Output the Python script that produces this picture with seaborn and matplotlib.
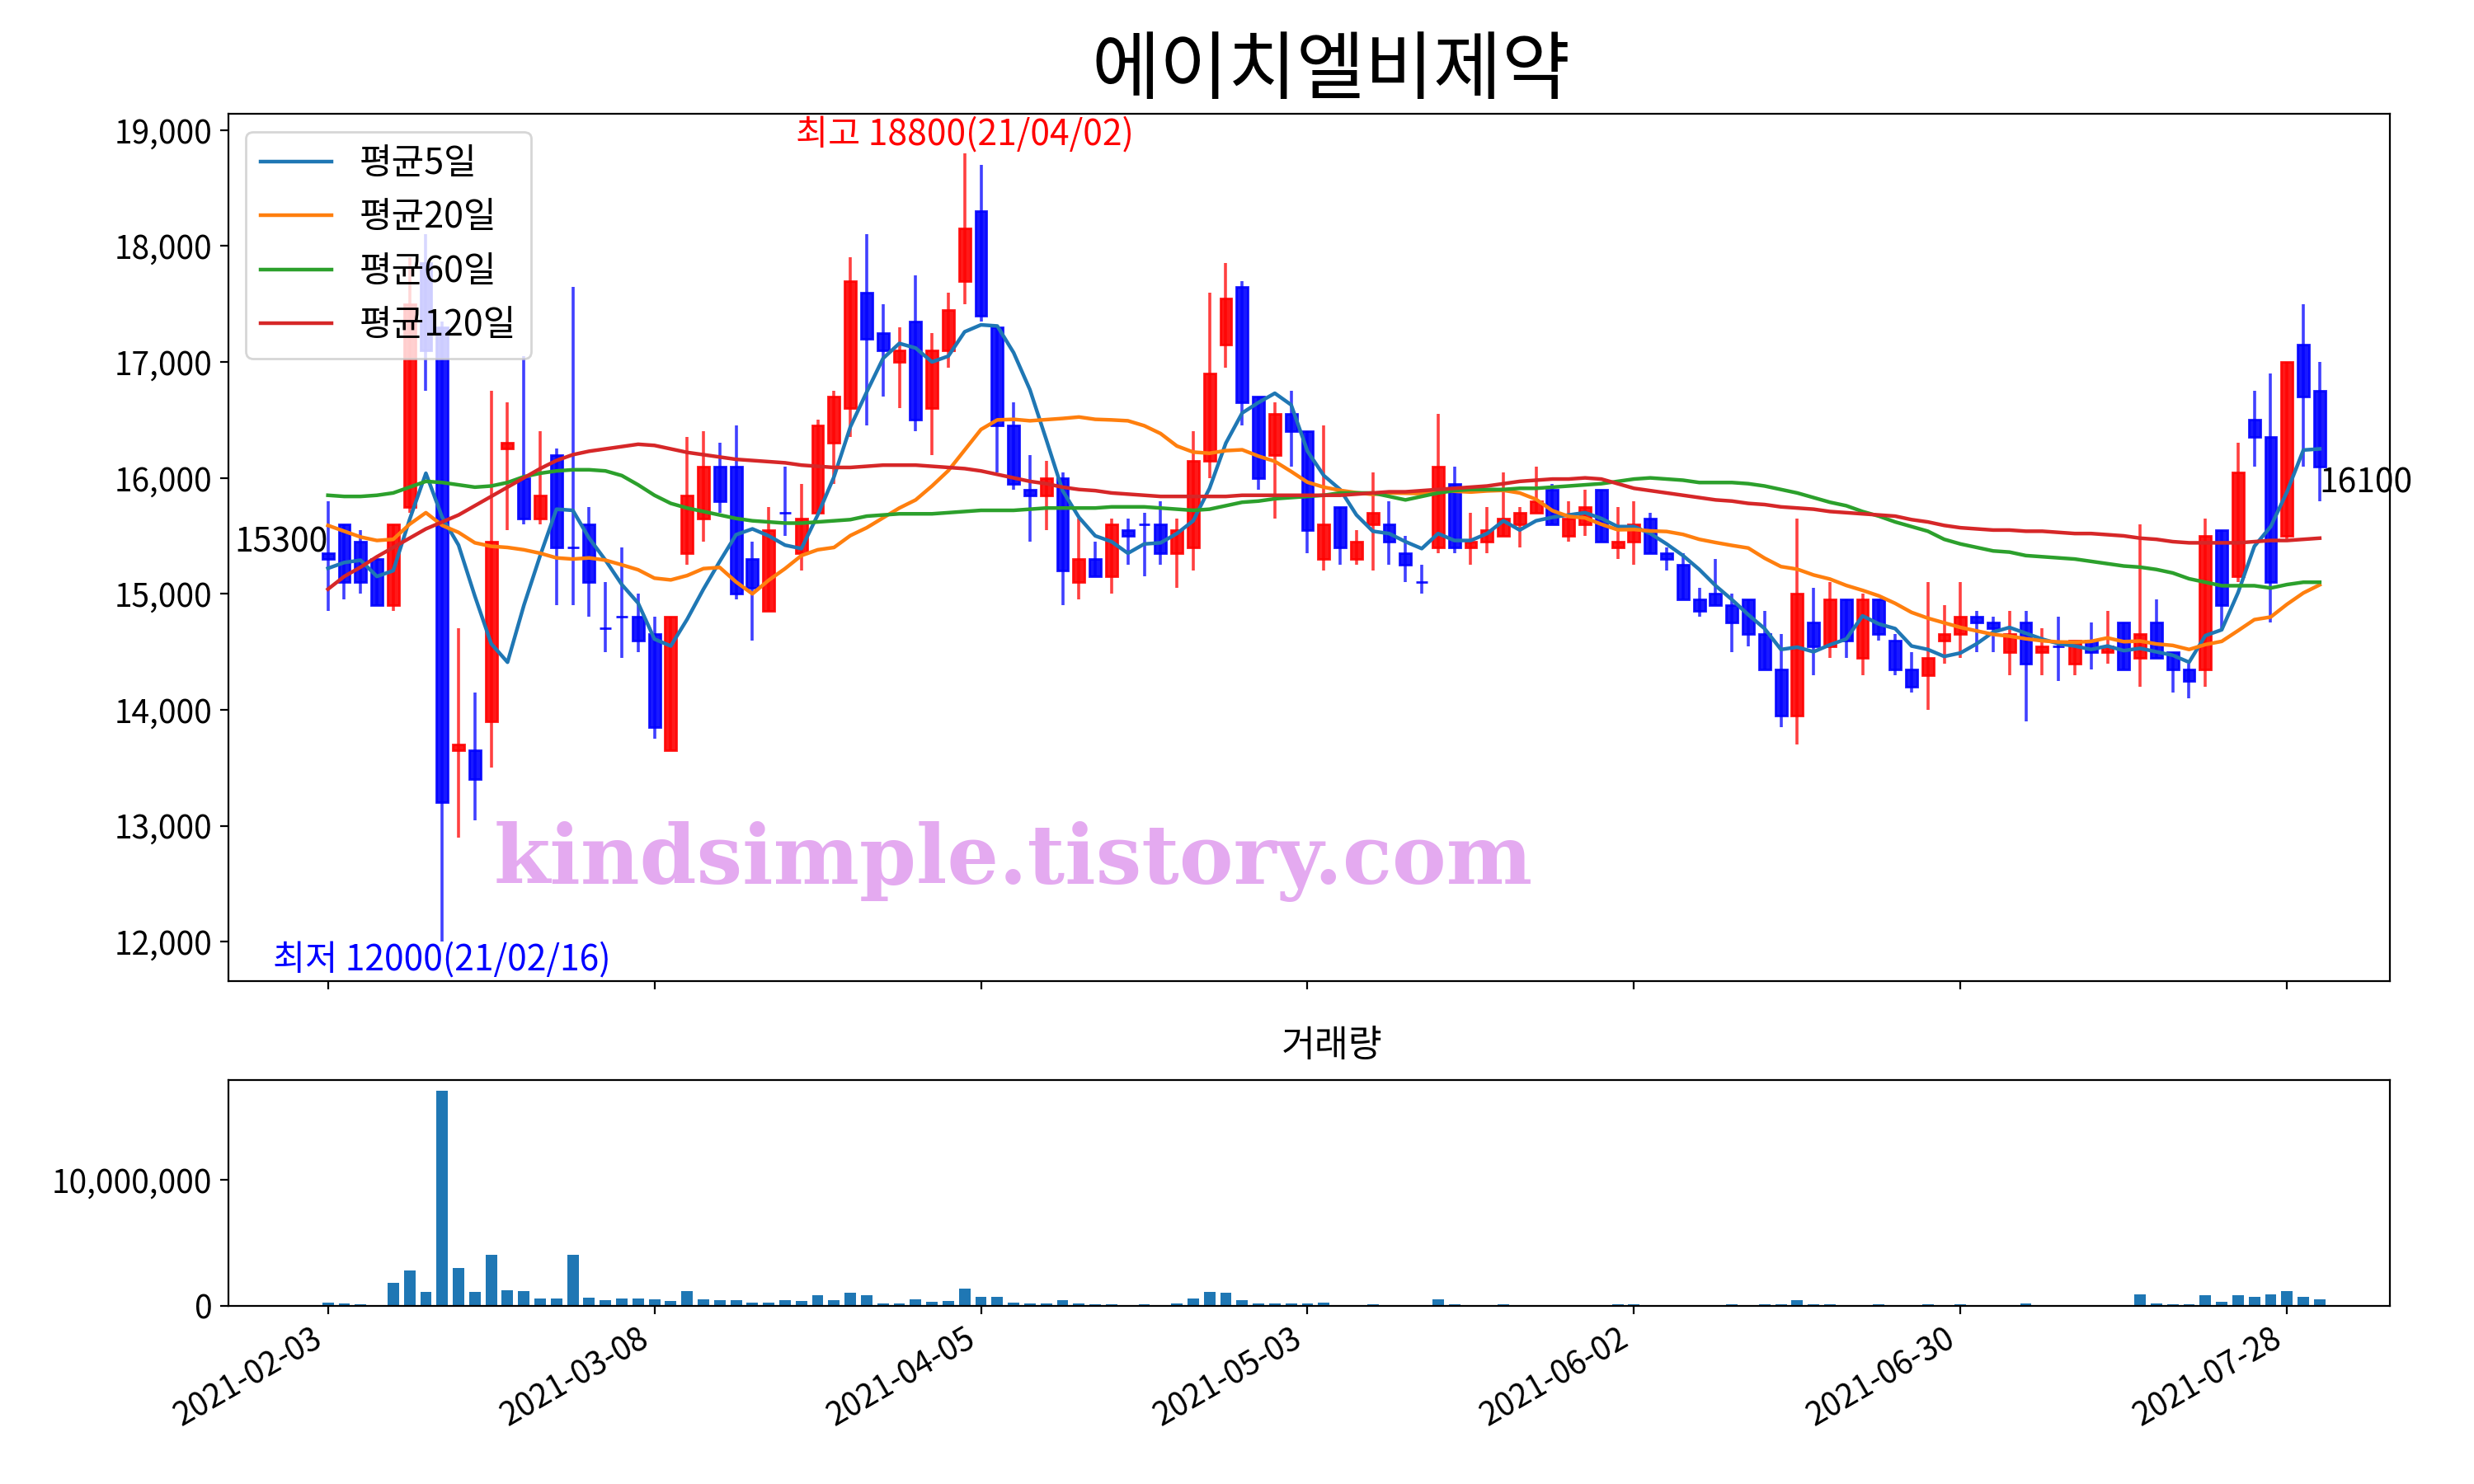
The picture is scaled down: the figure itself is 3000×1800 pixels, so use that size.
import numpy as np
import pandas as pd
import matplotlib
matplotlib.use('Agg')  # no display
import matplotlib.pyplot as plt
import matplotlib.ticker as mticker
import seaborn as sns

title = '에이치엘비제약'
# KRX trading days, 2021-02-03 .. 2021-07-30
holidays = ['2021-02-11', '2021-02-12', '2021-03-01', '2021-05-05', '2021-05-19']
dates = pd.bdate_range('2021-02-03', '2021-07-30', freq='C', holidays=holidays)

open_ = [15350, 15600, 15450, 15300, 14900, 15750, 17850, 17300, 13650, 13650,
         13900, 16250, 16000, 15650, 16200, 15400, 15600, 14700, 14800, 14800,
         14650, 13650, 15350, 15650, 16100, 16100, 15300, 14850, 15700, 15350,
         15700, 16300, 16600, 17600, 17250, 17000, 17350, 16600, 17100, 17700,
         18300, 17300, 16450, 15900, 15850, 16000, 15100, 15300, 15150, 15550,
         15600, 15600, 15350, 15400, 16150, 17150, 17650, 16700, 16200, 16550,
         16400, 15300, 15750, 15300, 15600, 15600, 15350, 15100, 15400, 15950,
         15400, 15450, 15500, 15600, 15700, 15900, 15500, 15600, 15900, 15400,
         15450, 15650, 15350, 15250, 14950, 15000, 14900, 14950, 14650, 14350,
         13950, 14750, 14550, 14950, 14450, 14950, 14600, 14350, 14300, 14600,
         14650, 14800, 14750, 14500, 14750, 14500, 14550, 14400, 14600, 14500,
         14750, 14450, 14750, 14500, 14350, 14350, 15550, 15150, 16500, 16350,
         15500, 17150, 16750]
high = [15800, 15600, 15550, 15300, 15600, 17900, 18100, 17350, 14700, 14150,
        16750, 16650, 17050, 16400, 16250, 17650, 15750, 15100, 15400, 15000,
        14800, 14800, 16350, 16400, 16300, 16450, 15450, 15750, 16100, 15950,
        16500, 16750, 17900, 18100, 17500, 17300, 17750, 17250, 17600, 18800,
        18700, 17300, 16650, 16200, 16150, 16050, 15650, 15450, 15650, 15650,
        15700, 15800, 15650, 16400, 17600, 17850, 17700, 16700, 16650, 16750,
        16400, 16450, 15750, 15550, 16050, 15800, 15500, 15250, 16550, 16100,
        15700, 15750, 16050, 15750, 16100, 15950, 15800, 15900, 15900, 15750,
        15800, 15700, 15400, 15350, 15050, 15300, 15000, 14950, 14850, 14650,
        15650, 15050, 15100, 14950, 15000, 14950, 14650, 14500, 15100, 14900,
        15100, 14850, 14800, 14850, 14850, 14700, 14800, 14600, 14750, 14850,
        14750, 15600, 14950, 14500, 14400, 15650, 15550, 16300, 16750, 16900,
        17000, 17500, 17000]
low = [14850, 14950, 15000, 14900, 14850, 15700, 16750, 12000, 12900, 13050,
       13500, 15550, 15600, 15600, 14900, 14900, 14800, 14500, 14450, 14500,
       13750, 13650, 15250, 15450, 15700, 14950, 14600, 14850, 15500, 15200,
       15700, 15950, 16350, 16450, 16700, 16600, 16400, 16200, 16950, 17500,
       17350, 16050, 15900, 15450, 15550, 14900, 14950, 15150, 15000, 15250,
       15150, 15250, 15050, 15200, 16000, 16950, 16450, 15900, 15650, 16100,
       15350, 15200, 15250, 15250, 15200, 15250, 15100, 15000, 15350, 15350,
       15250, 15350, 15500, 15400, 15700, 15600, 15450, 15500, 15450, 15300,
       15250, 15350, 15200, 14950, 14800, 14900, 14500, 14550, 14350, 13850,
       13700, 14300, 14450, 14450, 14300, 14600, 14300, 14150, 14000, 14400,
       14450, 14500, 14500, 14300, 13900, 14300, 14250, 14300, 14350, 14400,
       14350, 14200, 14450, 14150, 14100, 14200, 14700, 15100, 16100, 14750,
       15450, 16100, 15800]
close = [15300, 15100, 15100, 14900, 15600, 17500, 17100, 13200, 13700, 13400,
         15450, 16300, 15650, 15850, 15400, 15400, 15100, 14700, 14800, 14600,
         13850, 14800, 15850, 16100, 15800, 15000, 15050, 15550, 15700, 15650,
         16450, 16700, 17700, 17200, 17100, 17100, 16500, 17100, 17450, 18150,
         17400, 16450, 15950, 15850, 16000, 15200, 15300, 15150, 15600, 15500,
         15600, 15350, 15550, 16150, 16900, 17550, 16650, 16000, 16550, 16400,
         15550, 15600, 15400, 15450, 15700, 15450, 15250, 15100, 16100, 15400,
         15450, 15550, 15650, 15700, 15800, 15600, 15650, 15750, 15450, 15450,
         15600, 15350, 15300, 14950, 14850, 14900, 14750, 14650, 14350, 13950,
         15000, 14550, 14950, 14600, 14950, 14650, 14350, 14200, 14450, 14650,
         14800, 14750, 14700, 14650, 14400, 14550, 14550, 14600, 14500, 14550,
         14350, 14650, 14450, 14350, 14250, 15500, 14900, 16050, 16350, 15100,
         17000, 16700, 16100]
volume = [262000, 175000, 109000, 44000, 1810000, 2790000, 1090000, 17070000, 2990000, 1090000,
          4040000, 1220000, 1160000, 568000, 568000, 4040000, 633000, 437000, 568000, 568000,
          502000, 371000, 1160000, 502000, 437000, 437000, 240000, 240000, 437000, 371000,
          830000, 437000, 1030000, 830000, 175000, 175000, 502000, 306000, 371000, 1350000,
          699000, 699000, 240000, 175000, 175000, 437000, 175000, 109000, 109000, 44000,
          109000, 44000, 175000, 568000, 1090000, 1030000, 437000, 175000, 175000, 175000,
          175000, 262000, 44000, 44000, 109000, 30000, 44000, 44000, 502000, 109000,
          44000, 30000, 109000, 44000, 44000, 44000, 30000, 30000, 44000, 109000,
          109000, 30000, 30000, 44000, 44000, 44000, 109000, 44000, 109000, 109000,
          437000, 109000, 109000, 44000, 44000, 109000, 44000, 30000, 109000, 44000,
          109000, 30000, 30000, 44000, 175000, 30000, 44000, 30000, 30000, 44000,
          44000, 895000, 175000, 109000, 109000, 830000, 306000, 830000, 699000, 895000,
          1160000, 699000, 502000]

# moving averages that reach back before the first visible day
ma5_head = [15220, 15270, 15290, 15150]
ma20_head = [15590, 15540, 15490, 15460, 15470, 15600, 15700, 15590, 15530, 15440,
             15410, 15400, 15380, 15350, 15310, 15300, 15310, 15290, 15250]
ma60 = [15850, 15840, 15840, 15850, 15870, 15920, 15970, 15960, 15940, 15920,
        15930, 15960, 16010, 16040, 16060, 16070, 16070, 16060, 16020, 15940,
        15850, 15780, 15740, 15710, 15680, 15650, 15630, 15620, 15610, 15610,
        15620, 15630, 15640, 15670, 15680, 15690, 15690, 15690, 15700, 15710,
        15720, 15720, 15720, 15730, 15740, 15740, 15740, 15740, 15750, 15750,
        15750, 15740, 15730, 15720, 15730, 15760, 15790, 15800, 15820, 15830,
        15840, 15850, 15870, 15870, 15870, 15840, 15810, 15840, 15870, 15890,
        15900, 15900, 15900, 15910, 15910, 15920, 15930, 15940, 15950, 15970,
        15990, 16000, 15990, 15980, 15960, 15960, 15960, 15950, 15930, 15900,
        15870, 15830, 15790, 15760, 15710, 15670, 15620, 15580, 15540, 15470,
        15430, 15400, 15370, 15360, 15330, 15320, 15310, 15300, 15280, 15260,
        15240, 15230, 15210, 15180, 15130, 15100, 15070, 15070, 15070, 15050,
        15080, 15100, 15100]
ma120 = [15040, 15150, 15230, 15320, 15400, 15480, 15560, 15620, 15680, 15760,
         15840, 15920, 16000, 16080, 16150, 16200, 16230, 16250, 16270, 16290,
         16280, 16250, 16220, 16200, 16180, 16160, 16150, 16140, 16130, 16110,
         16100, 16090, 16090, 16100, 16110, 16110, 16110, 16100, 16090, 16080,
         16060, 16030, 16000, 15970, 15950, 15920, 15900, 15890, 15870, 15860,
         15850, 15840, 15840, 15840, 15840, 15840, 15850, 15850, 15850, 15850,
         15850, 15850, 15850, 15860, 15870, 15880, 15880, 15890, 15900, 15910,
         15920, 15930, 15950, 15970, 15980, 15990, 15990, 16000, 15990, 15950,
         15910, 15890, 15870, 15850, 15830, 15810, 15800, 15780, 15770, 15750,
         15740, 15730, 15710, 15700, 15690, 15680, 15670, 15640, 15620, 15590,
         15570, 15560, 15550, 15550, 15540, 15540, 15530, 15520, 15520, 15510,
         15500, 15480, 15470, 15450, 15440, 15440, 15440, 15440, 15450, 15460,
         15460, 15470, 15480]

df = pd.DataFrame({'date': dates, 'open': open_, 'high': high, 'low': low,
                   'close': close, 'volume': volume})
df['x'] = np.arange(len(df))
df['ma5'] = df['close'].rolling(5).mean()
df.loc[:len(ma5_head) - 1, 'ma5'] = ma5_head
df['ma20'] = df['close'].rolling(20).mean()
df.loc[:len(ma20_head) - 1, 'ma20'] = ma20_head
df['ma60'] = ma60
df['ma120'] = ma120

plt.rcParams['font.family'] = ['Noto Sans CJK KR', 'DejaVu Sans']
plt.rcParams['font.size'] = 14

fig = plt.figure(figsize=(15, 9), dpi=200)
ax = fig.add_axes([0.0923, 0.3389, 0.8737, 0.5844])
ax_vol = fig.add_axes([0.0923, 0.12, 0.8737, 0.1522], sharex=ax)

# candles: red = up, blue = down
up = df['close'] > df['open']
colors = np.where(up, 'red', 'blue')
ax.vlines(df['x'], df['low'], df['high'], colors=colors, linewidth=1.3, alpha=0.75, zorder=1)
body_low = df[['open', 'close']].min(axis=1)
body_h = (df['close'] - df['open']).abs()
ax.bar(df['x'], body_h, bottom=body_low, width=0.7, color=colors, edgecolor=colors,
       linewidth=1.0, alpha=0.9, zorder=2)

# moving averages
for col, name, c in [('ma5', '평균5일', 'C0'), ('ma20', '평균20일', 'C1'),
                     ('ma60', '평균60일', 'C2'), ('ma120', '평균120일', 'C3')]:
    sns.lineplot(data=df, x='x', y=col, ax=ax, color=c, label=name, linewidth=1.6, zorder=3)

ax.legend(loc='upper left', fontsize=15.5)
ax.set_xlabel('')
ax.set_ylabel('')
ax.yaxis.set_major_formatter(mticker.FuncFormatter(lambda v, p: f'{v:,.0f}'))
ax.tick_params(labelbottom=False)

# high / low / first / last labels
hi = int(df['high'].idxmax())
lo = int(df['low'].idxmin())
ax.text(hi, df['high'][hi], f"최고 {df['high'][hi]}({df['date'][hi]:%y/%m/%d})",
        color='red', ha='center', va='bottom', fontsize=15.3)
ax.text(lo, df['low'][lo], f"최저 {df['low'][lo]}({df['date'][lo]:%y/%m/%d})",
        color='blue', ha='center', va='top', fontsize=15.3)
ax.text(0, df['close'].iloc[0], f"{df['close'].iloc[0]}", ha='right', va='bottom', fontsize=14.7)
ax.text(len(df) - 1, df['close'].iloc[-1], f"{df['close'].iloc[-1]}", ha='left', va='top', fontsize=14.7)

ax.text(0.3633, 0.138, 'kindsimple.tistory.com', transform=ax.transAxes,
        ha='center', va='center', fontsize=35.5, fontweight='heavy',
        family='DejaVu Serif', color='#e4aaf0')

# volume
ax_vol.bar(df['x'], df['volume'], width=0.7, color='C0')
ax_vol.set_yticks([0, 10_000_000])
ax_vol.yaxis.set_major_formatter(mticker.FuncFormatter(lambda v, p: f'{v:,.0f}'))

ticks = list(range(0, len(df), 20))
ax_vol.set_xticks(ticks)
ax_vol.set_xticklabels([df['date'][i].strftime('%Y-%m-%d') for i in ticks],
                       rotation=30, ha='right')
ax.set_xlim(-6.1, 126.3)

fig.text(0.538, 0.951, title, ha='center', va='center', fontsize=32.5)
fig.text(0.5385, 0.2955, '거래량', ha='center', va='center', fontsize=16)

fig.savefig('out.png', dpi=200)
